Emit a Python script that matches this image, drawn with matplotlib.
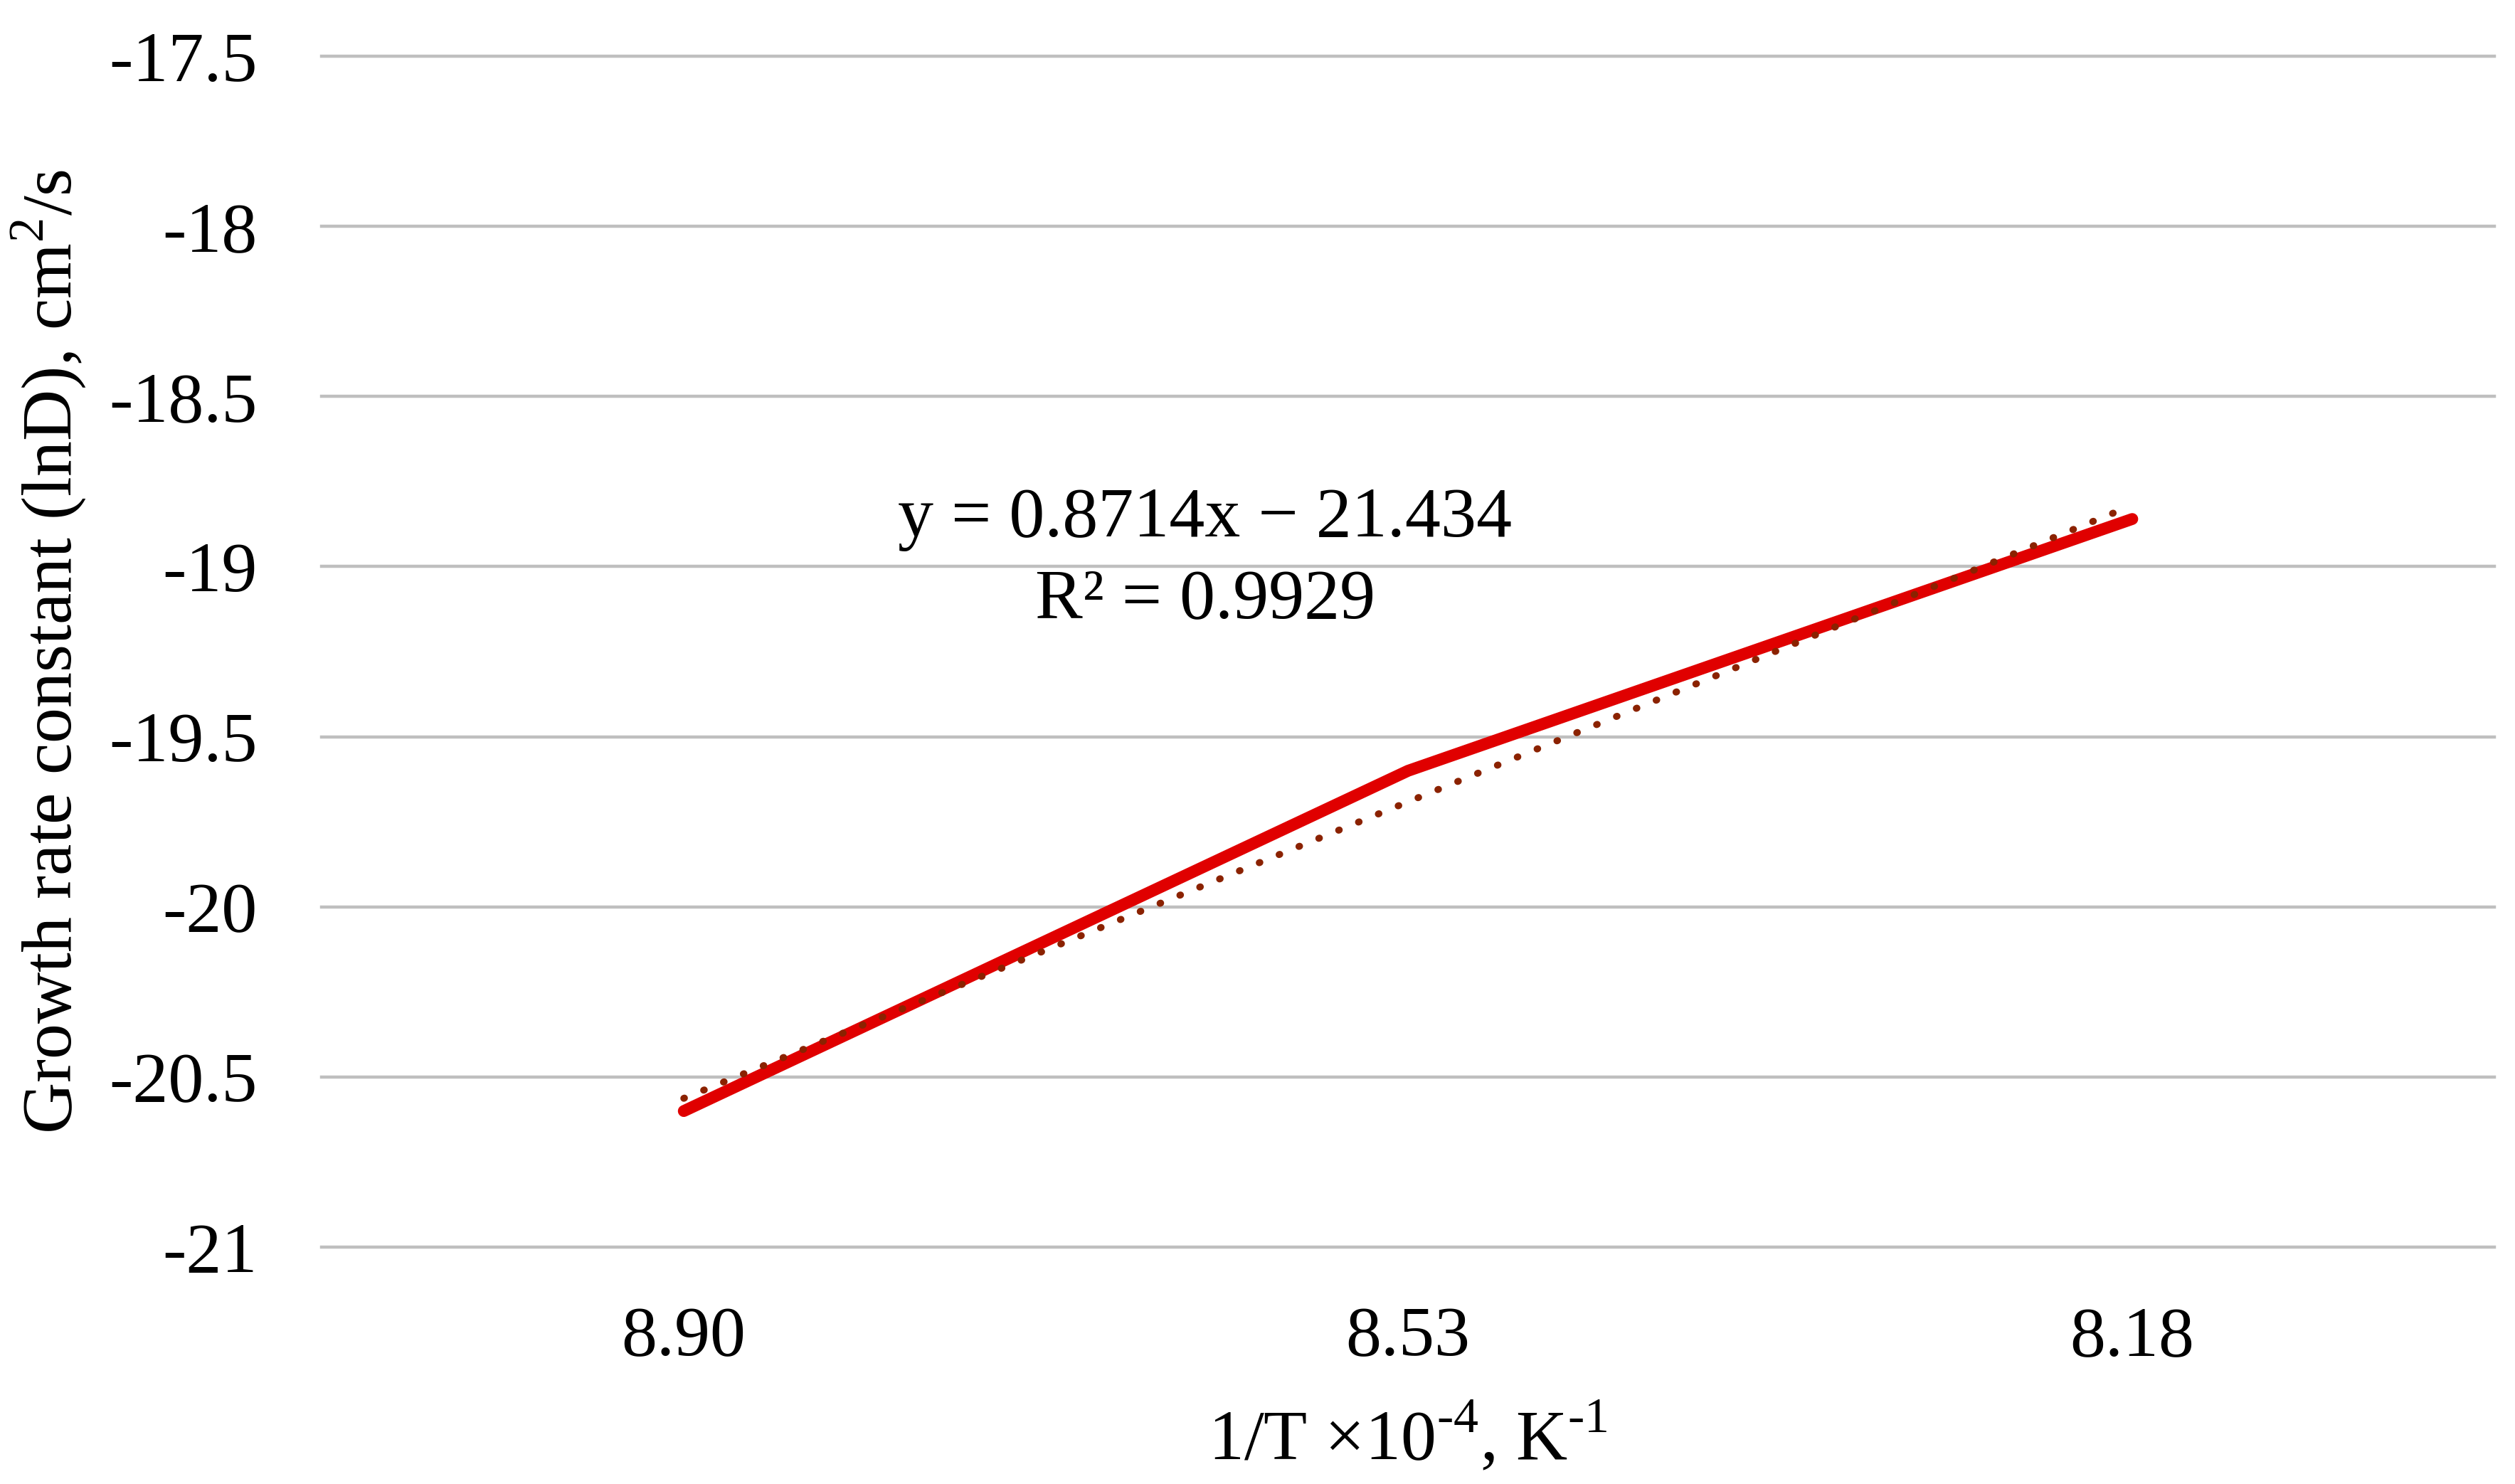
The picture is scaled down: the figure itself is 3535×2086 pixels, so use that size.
import numpy as np
import matplotlib.pyplot as plt

# data
categories = ['8.90', '8.53', '8.18']
ln_d = [-20.6, -19.6, -18.86]
trend_slope = 0.8714
trend_intercept = -21.434
r_squared = 0.9929
y_ticks = [-17.5, -18, -18.5, -19, -19.5, -20, -20.5, -21]

plt.rcParams['font.family'] = ['Liberation Serif', 'DejaVu Serif']
plt.rcParams['mathtext.fontset'] = 'custom'
plt.rcParams['mathtext.rm'] = 'Liberation Serif'

FS = 72

fig = plt.figure(figsize=(35.35, 20.86), dpi=100)
ax = fig.add_axes([0.1279, 0.1596, 0.8639, 0.8025])

x = np.arange(len(categories))
ax.plot(x, ln_d, color='#E00000', linewidth=12, solid_capstyle='round', zorder=3)

# linear trendline (Excel style, x counted from 1)
trend_y = trend_slope * (x + 1) + trend_intercept
ax.plot(x, trend_y, color='#8B2200', linewidth=7, dashes=(0.1, 3.0),
        dash_capstyle='round', zorder=4)

ax.set_xlim(-0.5, len(categories) - 0.5)
ax.set_ylim(-21, -17.5)
ax.set_xticks(x)
ax.set_xticklabels(categories)
ax.set_yticks(y_ticks)
ax.set_yticklabels([f'{v:g}'.replace('\u2212', '-') for v in y_ticks])
ax.tick_params(axis='both', length=0, labelsize=FS)
ax.tick_params(axis='y', pad=65)
ax.tick_params(axis='x', pad=60)

for v in y_ticks:
    ax.axhline(v, color='#BFBFBF', linewidth=3.2, zorder=1, clip_on=False)
for s in ax.spines.values():
    s.set_visible(False)

ax.set_ylabel('Growth rate constant (lnD), cm$^{\\mathrm{2}}$/s', fontsize=FS, labelpad=22)
ax.set_xlabel('1/T \u00d710$^{\\text{-}\\mathrm{4}}$, K$^{\\text{-}\\mathrm{1}}$', fontsize=FS, labelpad=30)

ax.text(0.72, -18.862, f'y = {trend_slope}x \u2212 {abs(trend_intercept)}',
        fontsize=FS, ha='center', va='center', zorder=5)
ax.text(0.72, -19.099, f'R\u00b2 = {r_squared}',
        fontsize=FS, ha='center', va='center', zorder=5)

fig.savefig('out.png', dpi=100)
